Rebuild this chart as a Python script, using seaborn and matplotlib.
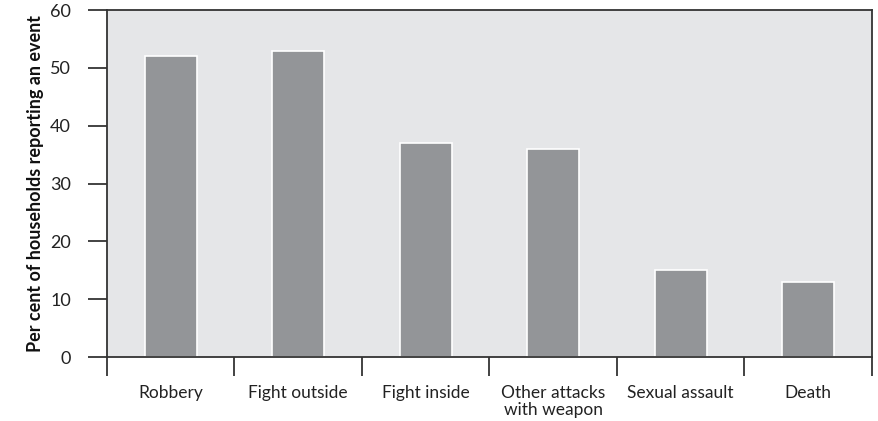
import matplotlib
matplotlib.use("Agg")
import matplotlib.pyplot as plt
import seaborn as sns
import pandas as pd
from matplotlib.ticker import FixedLocator

categories = ["Robbery", "Fight outside", "Fight inside", "Other attacks\nwith weapon", "Sexual assault", "Death"]
values = [52, 53, 37, 36, 15, 13]
yticks = [0, 10, 20, 30, 40, 50, 60]

df = pd.DataFrame({"cat": categories, "val": values})

sns.set_theme(style="white")
plt.rcParams["font.family"] = ["Lato", "DejaVu Sans"]

fig = plt.figure(figsize=(8.79, 4.21), dpi=100)
ax = fig.add_axes([0.1217, 0.152, 0.8703, 0.824])
ax.set_facecolor("#e5e6e8")

sns.barplot(data=df, x="cat", y="val", ax=ax, color="#939598", saturation=1,
            width=0.41, edgecolor="white", linewidth=1.2)

ax.set_xlim(-0.5, len(categories) - 0.5)
ax.set_ylim(0, 60)
ax.set_yticks(yticks)
ax.set_yticklabels([str(v) for v in yticks], fontsize=13, color="#222222")
ax.tick_params(axis="y", left=True, length=14, width=1.2, color="#222222", pad=12, direction="out")

ax.set_xticks(range(len(categories)))
ax.set_xticklabels(categories, fontsize=12.5, color="#222222", linespacing=1.1)
ax.xaxis.set_minor_locator(FixedLocator([i - 0.5 for i in range(len(categories) + 1)]))
ax.tick_params(axis="x", which="major", bottom=True, length=0, pad=20)
ax.tick_params(axis="x", which="minor", bottom=True, length=14, width=1.2, color="#222222", direction="out")

ax.set_xlabel("")
ax.set_ylabel("Per cent of households reporting an event", fontsize=13,
              fontweight="bold", color="#111111")
ax.yaxis.set_label_coords(-0.082, 0.5)

for s in ax.spines.values():
    s.set_visible(True)
    s.set_color("#333333")
    s.set_linewidth(1.3)

fig.savefig("out.png", dpi=100)
